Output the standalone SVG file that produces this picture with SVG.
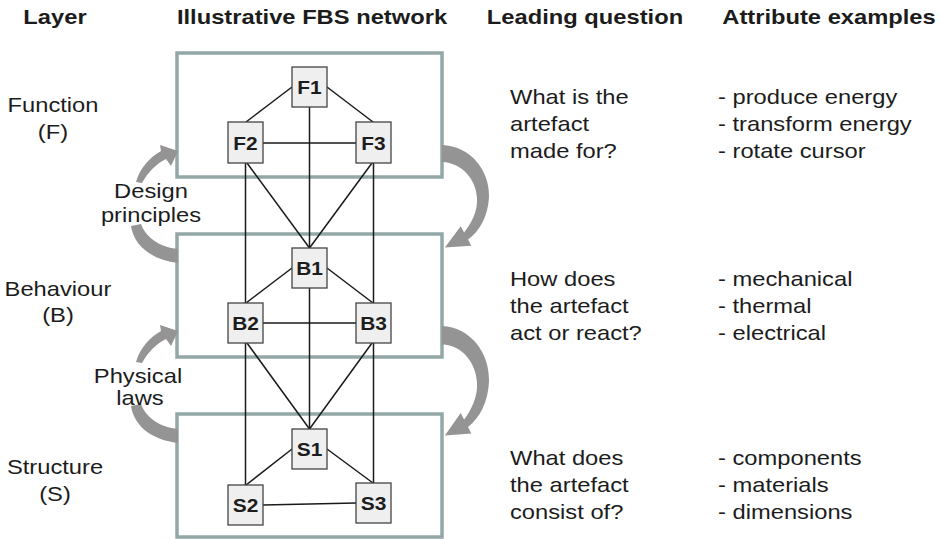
<svg xmlns="http://www.w3.org/2000/svg" width="941" height="539" viewBox="0 0 941 539">
<style>
text{font-family:"Liberation Sans",Arial,sans-serif;fill:#1c1c1c}
.h{font-size:21px;font-weight:bold}
.t{font-size:21px}
.m{text-anchor:middle}
.n{font-size:19px;font-weight:bold;text-anchor:middle}
.layer{fill:#fff;stroke:#93a7a7;stroke-width:3.5}
.node{fill:#efefef;stroke:#444;stroke-width:1.3}
.e{stroke:#1a1a1a;stroke-width:1.5;fill:none}
.arr{fill:#949494}
</style>
<defs>
<g id="leftArrow">
<path class="arr" d="M136,182 C140,168 149,158 161,151 L160,145 L178,151 L171,166 L166,159 C156,164 148,172 142,183 Z"/>
<path class="arr" d="M131,226 C134,246 152,260 178,263 L178,249 C160,247 146,238 141,224 Z"/>
</g>
<g id="rightArrow">
<path class="arr" d="M442,145 C470,146 490,170 489,197 C488,216 480,231 468,239.5 L471.3,245.7 L444.9,247.5 L460.7,226.3 L464.1,232.5 C471,224 478,211 477,198 C476,180 463,163 442,162 Z"/>
</g>
</defs>

<g id="headers">
<text class="h m" transform="translate(55,24) scale(1.13,1)">Layer</text>
<text class="h m" transform="translate(312,24) scale(1.13,1)">Illustrative FBS network</text>
<text class="h m" transform="translate(585,24) scale(1.13,1)">Leading question</text>
<text class="h m" transform="translate(829,24) scale(1.13,1)">Attribute examples</text>
</g>

<g id="layer-F"><rect class="layer" x="177" y="53" width="265" height="124"/></g>
<g id="layer-B"><rect class="layer" x="177" y="234" width="265" height="123"/></g>
<g id="layer-S"><rect class="layer" x="177" y="414" width="265" height="123"/></g>

<g id="transitions">
<use href="#leftArrow"/>
<use href="#leftArrow" transform="translate(0,180)"/>
<use href="#rightArrow"/>
<use href="#rightArrow" transform="translate(0,325) scale(1,1.068) translate(0,-144)"/>
</g>

<g id="connectors">
<line class="e" x1="292" y1="87" x2="246" y2="122"/>
<line class="e" x1="327" y1="87" x2="373" y2="122"/>
<line class="e" x1="309.5" y1="107" x2="309.5" y2="248"/>
<line class="e" x1="263" y1="143" x2="356" y2="143"/>
<line class="e" x1="245.5" y1="163" x2="245.5" y2="303"/>
<line class="e" x1="373.5" y1="163" x2="373.5" y2="303"/>
<line class="e" x1="247" y1="163" x2="309.5" y2="248"/>
<line class="e" x1="372" y1="163" x2="309.5" y2="248"/>
<line class="e" x1="292" y1="268" x2="246" y2="303"/>
<line class="e" x1="327" y1="268" x2="373" y2="303"/>
<line class="e" x1="263" y1="323" x2="356" y2="323"/>
<line class="e" x1="309.5" y1="288" x2="309.5" y2="429"/>
<line class="e" x1="245.5" y1="343" x2="245.5" y2="485"/>
<line class="e" x1="373.5" y1="343" x2="373.5" y2="483"/>
<line class="e" x1="247" y1="343" x2="309.5" y2="429"/>
<line class="e" x1="372" y1="343" x2="309.5" y2="429"/>
<line class="e" x1="292" y1="449" x2="246" y2="485"/>
<line class="e" x1="327" y1="449" x2="373" y2="483"/>
<line class="e" x1="263" y1="505" x2="356" y2="503"/>
</g>

<g id="F1"><rect class="node" x="292" y="67" width="35" height="40"/><text class="n" transform="translate(309.5,94) scale(1.1,1)">F1</text></g>
<g id="F2"><rect class="node" x="228" y="122" width="35" height="41"/><text class="n" transform="translate(245.5,149.5) scale(1.1,1)">F2</text></g>
<g id="F3"><rect class="node" x="356" y="122" width="35" height="41"/><text class="n" transform="translate(373.5,149.5) scale(1.1,1)">F3</text></g>
<g id="B1"><rect class="node" x="292" y="248" width="35" height="40"/><text class="n" transform="translate(309.5,275) scale(1.1,1)">B1</text></g>
<g id="B2"><rect class="node" x="228" y="303" width="35" height="40"/><text class="n" transform="translate(245.5,330) scale(1.1,1)">B2</text></g>
<g id="B3"><rect class="node" x="356" y="303" width="35" height="40"/><text class="n" transform="translate(373.5,330) scale(1.1,1)">B3</text></g>
<g id="S1"><rect class="node" x="292" y="429" width="35" height="40"/><text class="n" transform="translate(309.5,456) scale(1.1,1)">S1</text></g>
<g id="S2"><rect class="node" x="228" y="485" width="35" height="40"/><text class="n" transform="translate(245.5,512) scale(1.1,1)">S2</text></g>
<g id="S3"><rect class="node" x="356" y="483" width="35" height="40"/><text class="n" transform="translate(373.5,510) scale(1.1,1)">S3</text></g>

<g id="layer-labels">
<text class="t m" transform="translate(53,112) scale(1.13,1)">Function</text>
<text class="t m" transform="translate(53,139) scale(1.13,1)">(F)</text>
<text class="t m" transform="translate(151,198) scale(1.13,1)">Design</text>
<text class="t m" transform="translate(151,222) scale(1.13,1)">principles</text>
<text class="t m" transform="translate(58,296) scale(1.13,1)">Behaviour</text>
<text class="t m" transform="translate(58,322) scale(1.13,1)">(B)</text>
<text class="t m" transform="translate(138,383) scale(1.13,1)">Physical</text>
<text class="t m" transform="translate(140,405) scale(1.13,1)">laws</text>
<text class="t m" transform="translate(55,474) scale(1.13,1)">Structure</text>
<text class="t m" transform="translate(55,501) scale(1.13,1)">(S)</text>
</g>

<g id="questions">
<text class="t" transform="translate(510,104) scale(1.13,1)">What is the</text>
<text class="t" transform="translate(510,131) scale(1.13,1)">artefact</text>
<text class="t" transform="translate(510,158) scale(1.13,1)">made for?</text>
<text class="t" transform="translate(510,286) scale(1.13,1)">How does</text>
<text class="t" transform="translate(510,313) scale(1.13,1)">the artefact</text>
<text class="t" transform="translate(510,340) scale(1.13,1)">act or react?</text>
<text class="t" transform="translate(510,465) scale(1.13,1)">What does</text>
<text class="t" transform="translate(510,492) scale(1.13,1)">the artefact</text>
<text class="t" transform="translate(510,519) scale(1.13,1)">consist of?</text>
</g>

<g id="attributes">
<text class="t" transform="translate(718,104) scale(1.13,1)">- produce energy</text>
<text class="t" transform="translate(718,131) scale(1.13,1)">- transform energy</text>
<text class="t" transform="translate(718,158) scale(1.13,1)">- rotate cursor</text>
<text class="t" transform="translate(718,286) scale(1.13,1)">- mechanical</text>
<text class="t" transform="translate(718,313) scale(1.13,1)">- thermal</text>
<text class="t" transform="translate(718,340) scale(1.13,1)">- electrical</text>
<text class="t" transform="translate(718,465) scale(1.13,1)">- components</text>
<text class="t" transform="translate(718,492) scale(1.13,1)">- materials</text>
<text class="t" transform="translate(718,519) scale(1.13,1)">- dimensions</text>
</g>
</svg>
